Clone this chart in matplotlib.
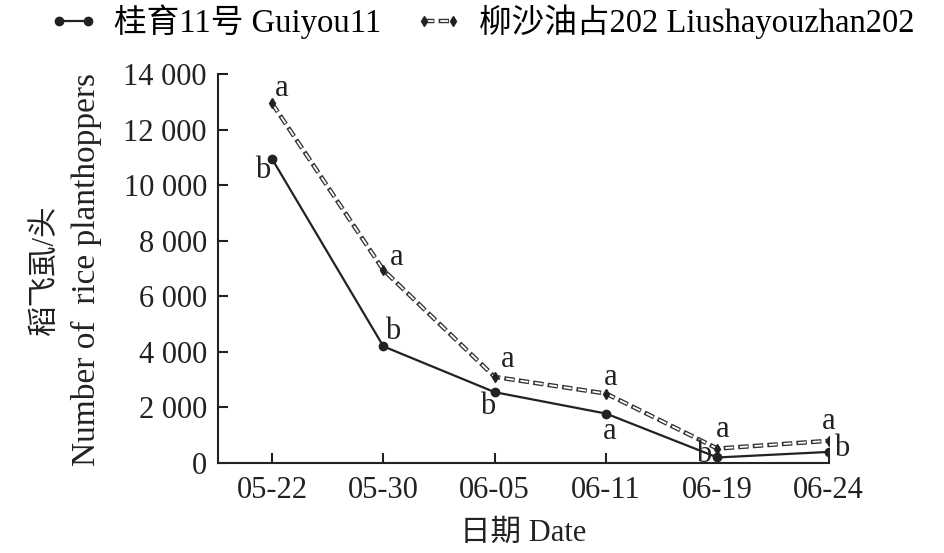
import matplotlib
matplotlib.use("Agg")
import matplotlib.pyplot as plt
from matplotlib.ticker import FuncFormatter
from matplotlib.legend_handler import HandlerTuple

plt.rcParams['font.family'] = ['Liberation Serif', 'Noto Sans CJK SC', 'DejaVu Sans']
plt.rcParams['lines.scale_dashes'] = False

# data
dates = ['05-22', '05-30', '06-05', '06-11', '06-19', '06-24']
guiyou = [10950, 4200, 2550, 1780, 200, 400]
liusha = [12950, 6950, 3100, 2500, 520, 800]
guiyou_sig = ['b', 'b', 'b', 'a', 'b', 'b']
liusha_sig = ['a', 'a', 'a', 'a', 'a', 'a']

# label offsets (pixels)
off_g = [(-9, -12), (9, 15), (-7, -14), (4, -18), (-14, 3), (13, 3)]
off_l = [(10, 15), (13, 12), (13, 17), (5, 16), (5, 19), (0, 19)]

col = '#222222'
fs = 22
dash_out = (0, (7.5, 3.0))
dash_in = (9.3, (5.7, 4.8))

fig = plt.figure(figsize=(9.45, 5.53), dpi=100)
ax = fig.add_axes([0.2307, 0.1627, 0.877 - 0.2307, 0.866 - 0.1627])

x = list(range(len(dates)))
l1, = ax.plot(x, guiyou, color=col, lw=1.6, marker='o', ms=6, zorder=3)
l2a, = ax.plot(x, liusha, color='#333333', lw=3.2, ls=dash_out, zorder=2)
l2b, = ax.plot(x, liusha, color='white', lw=1.3, ls=dash_in, zorder=2.1)
l2m, = ax.plot(x, liusha, ls='none', marker='d', ms=5, color=col, zorder=4)

for xi, v, s, o in zip(x, guiyou, guiyou_sig, off_g):
    ax.annotate(s, (xi, v), xytext=o, textcoords='offset pixels',
                ha='center', va='center', fontsize=fs, color=col)
for xi, v, s, o in zip(x, liusha, liusha_sig, off_l):
    ax.annotate(s, (xi, v), xytext=o, textcoords='offset pixels',
                ha='center', va='center', fontsize=fs, color=col)

ax.set_xlim(-0.485, 5.0)
ax.set_ylim(0, 14000)
ax.set_yticks(range(0, 14001, 2000))
ax.yaxis.set_major_formatter(FuncFormatter(lambda v, p: f"{int(v):,}".replace(',', ' ')))
ax.set_xticks(x)
ax.set_xticklabels(dates)
ax.tick_params(direction='in', length=7, width=1.5, labelsize=fs, colors=col)
ax.tick_params(axis='y', pad=8)
ax.tick_params(axis='x', pad=9)
for s in ['top', 'right']:
    ax.spines[s].set_visible(False)
for s in ['left', 'bottom']:
    ax.spines[s].set_linewidth(1.5)
    ax.spines[s].set_color(col)

ax.set_xlabel('日期 Date', fontsize=fs, color=col, labelpad=10)
fig.text(0.048, 0.513, '稻飞虱/头', rotation=90, ha='center', va='center', fontsize=22, color=col)
fig.text(0.092, 0.513, 'Number of  rice planthoppers', rotation=90, ha='center', va='center', fontsize=24, color=col)

leg = fig.legend([l1, (l2a, l2b, l2m)], ['桂育11号 Guiyou11', '柳沙油占202 Liushayouzhan202'],
                 handler_map={tuple: HandlerTuple(ndivide=1)},
                 loc='center', bbox_to_anchor=(0.51, 0.96), ncol=2, frameon=False,
                 fontsize=23.5, numpoints=2, handlelength=1.5, columnspacing=1.0,
                 handletextpad=0.5, borderpad=0)

fig.savefig('out.png', dpi=100)
